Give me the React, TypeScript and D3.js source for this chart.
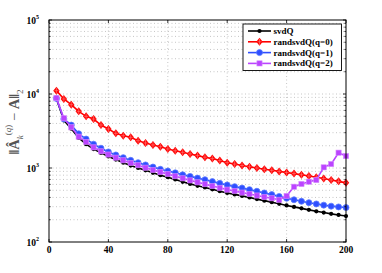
import React from 'react';
import * as d3 from 'd3';

const ks = d3.range(5, 201, 5);

const svdQ = [8600, 4400, 3400, 2550, 2100, 1800, 1600, 1430, 1300, 1180,
  1080, 1000, 930, 860, 800, 750, 700, 650, 610, 575,
  545, 515, 485, 460, 440, 420, 400, 380, 362, 345,
  328, 312, 298, 285, 272, 260, 250, 240, 232, 224];

const rand0 = [11100, 8560, 7170, 5830, 4990, 4590, 3810, 3370, 2940, 2730,
  2600, 2340, 2180, 2050, 1940, 1810, 1710, 1630, 1550, 1470,
  1400, 1340, 1260, 1180, 1130, 1080, 1040, 1000, 960, 930,
  900, 870, 840, 810, 780, 750, 720, 690, 660, 630];

const rand1 = [8700, 4600, 3800, 2900, 2460, 2100, 1850, 1650, 1500, 1380,
  1270, 1180, 1100, 1030, 960, 910, 860, 810, 770, 730,
  695, 655, 620, 590, 560, 535, 510, 485, 460, 437,
  412, 390, 372, 355, 340, 327, 315, 305, 298, 292];

const rand2 = [8800, 4700, 3550, 2650, 2250, 1900, 1680, 1520, 1380, 1270,
  1170, 1090, 1010, 940, 880, 830, 775, 725, 680, 640,
  605, 570, 540, 510, 490, 465, 445, 425, 405, 390,
  372, 419, 558, 608, 653, 688, 1020, 1130, 1610, 1450];

const xTicks = [0, 40, 80, 120, 160, 200];
const yExps = [2, 3, 4, 5];

const series = [
  { name: 'svdQ', values: svdQ, color: '#000000', marker: 'circle' },
  { name: 'randsvdQ(q=0)', values: rand0, color: '#ff0000', marker: 'diamond' },
  { name: 'randsvdQ(q=1)', values: rand1, color: '#2f4fff', marker: 'bigcircle' },
  { name: 'randsvdQ(q=2)', values: rand2, color: '#bb44ff', marker: 'square' },
];

const Marker = ({ type, x, y, color }: { type: string; x: number; y: number; color: string }) => {
  if (type === 'circle') return <circle cx={x} cy={y} r={2.1} fill={color} />;
  if (type === 'bigcircle') return <circle cx={x} cy={y} r={3} fill={color} stroke="#5a7aff" strokeWidth={0.8} />;
  if (type === 'diamond') {
    const s = 4;
    return (
      <g>
        <path d={`M${x},${y - s}L${x + s * 0.8},${y}L${x},${y + s}L${x - s * 0.8},${y}Z`} fill={color} />
        <path d={`M${x},${y - s + 1}V${y + s - 1}M${x - 2},${y}H${x + 2}`} stroke="#ff7070" strokeWidth={0.7} />
      </g>
    );
  }
  return <rect x={x - 2.6} y={y - 2.6} width={5.2} height={5.2} fill={color} stroke="#d68bff" strokeWidth={0.6} />;
};

export default function App() {
  const W = 382, H = 273;
  const L = 49, R = 346, T = 20, B = 242;
  const x = d3.scaleLinear().domain([0, 200]).range([L, R]);
  const y = d3.scaleLog().domain([100, 100000]).range([B, T]);
  const line = d3.line<number>().x((_, i) => x(ks[i])).y((d) => y(d));

  const minor: number[] = [];
  [100, 1000, 10000].forEach((d) => {
    for (let m = 2; m <= 9; m++) minor.push(d * m);
  });
  const font = '"Liberation Serif", "Times New Roman", serif';

  return (
    <svg width={W} height={H} style={{ position: 'absolute', left: 0, top: 0, background: '#fff' }}>
      <rect x={L} y={T} width={R - L} height={B - T} fill="#fff" />
      {/* grid */}
      <g stroke="#b8b8b8" strokeWidth={0.8} strokeDasharray="1,2.5">
        {xTicks.slice(1, -1).map((t) => (
          <line key={'vx' + t} x1={x(t)} x2={x(t)} y1={T} y2={B} />
        ))}
        {minor.concat([1000, 10000]).map((v) => (
          <line key={'hy' + v} x1={L} x2={R} y1={y(v)} y2={y(v)} />
        ))}
      </g>
      {/* series */}
      {series.map((s) => (
        <g key={s.name}>
          <path d={line(s.values) || ''} fill="none" stroke={s.color} strokeWidth={1.6} />
          {s.values.map((v, i) => (
            <Marker key={i} type={s.marker} x={x(ks[i])} y={y(v)} color={s.color} />
          ))}
        </g>
      ))}
      {/* frame + ticks */}
      <rect x={L} y={T} width={R - L} height={B - T} fill="none" stroke="#000" strokeWidth={1} />
      <g stroke="#000" strokeWidth={0.8}>
        {xTicks.map((t) => (
          <g key={'xt' + t}>
            <line x1={x(t)} x2={x(t)} y1={B} y2={B - 3} />
            <line x1={x(t)} x2={x(t)} y1={T} y2={T + 3} />
          </g>
        ))}
        {yExps.map((e) => (
          <g key={'yt' + e}>
            <line x1={L} x2={L + 3} y1={y(10 ** e)} y2={y(10 ** e)} />
            <line x1={R} x2={R - 3} y1={y(10 ** e)} y2={y(10 ** e)} />
          </g>
        ))}
        {minor.map((v) => (
          <g key={'ym' + v}>
            <line x1={L} x2={L + 1.6} y1={y(v)} y2={y(v)} />
            <line x1={R} x2={R - 1.6} y1={y(v)} y2={y(v)} />
          </g>
        ))}
      </g>
      {/* tick labels */}
      <g fontFamily={font} fontWeight="bold" fontSize={9.5} fill="#000">
        {xTicks.map((t) => (
          <text key={'xl' + t} x={x(t)} y={B + 11} textAnchor="middle">{t}</text>
        ))}
        {yExps.map((e) => (
          <text key={'yl' + e} x={L - 10} y={y(10 ** e) + 3.5} textAnchor="end">
            10
            <tspan fontSize={6} dy={-5}>{e}</tspan>
          </text>
        ))}
      </g>
      {/* y label */}
      <g transform={`translate(19, 122) rotate(-90)`} fill="#555" fontFamily={font} fontSize={14.5}>
        <text textAnchor="middle">
          <tspan fontWeight="bold">‖</tspan>
          <tspan fontWeight="bold">Â</tspan>
          <tspan fontSize={9} fontStyle="italic" dy={3.5}>k</tspan>
          <tspan fontSize={9} dy={-12}>(</tspan>
          <tspan fontSize={9} fontStyle="italic">q</tspan>
          <tspan fontSize={9}>)</tspan>
          <tspan dy={8.5}> − </tspan>
          <tspan fontWeight="bold">A</tspan>
          <tspan fontWeight="bold">‖</tspan>
          <tspan fontSize={9} dy={3.5}>2</tspan>
        </text>
      </g>
      {/* legend */}
      <g>
        <rect x={243} y={24} width={98.5} height={46.5} fill="#fff" stroke="#000" strokeWidth={0.9} />
        {series.map((s, i) => {
          const ly = 31 + i * 10.8;
          return (
            <g key={'lg' + s.name}>
              <line x1={248} x2={271} y1={ly} y2={ly} stroke={s.color} strokeWidth={1.6} />
              <Marker type={s.marker} x={259.5} y={ly} color={s.color} />
              <text x={273.5} y={ly + 3} fontFamily={font} fontWeight="bold" fontSize={9}>{s.name}</text>
            </g>
          );
        })}
      </g>
    </svg>
  );
}
